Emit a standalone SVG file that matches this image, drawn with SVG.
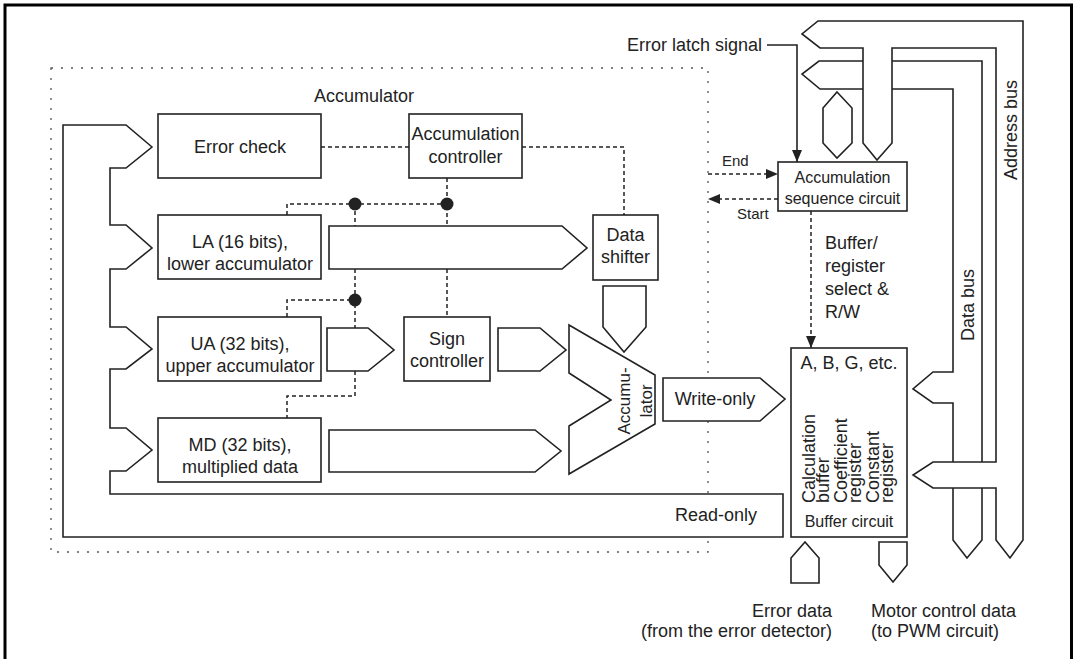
<svg xmlns="http://www.w3.org/2000/svg" width="1076" height="659" viewBox="0 0 1076 659">
<style>
.box{fill:#fff;stroke:#222;stroke-width:1.6}
.bus{fill:#fff;stroke:#222;stroke-width:1.6;stroke-linejoin:miter}
.dash{fill:none;stroke:#222;stroke-width:1.5;stroke-dasharray:4 3}
.line{fill:none;stroke:#222;stroke-width:1.6}
.frame{fill:none;stroke:#555;stroke-width:1.3;stroke-dasharray:2 8}
text{font-family:"Liberation Sans",Arial,Helvetica,sans-serif;font-size:18px;fill:#222}
.c{text-anchor:middle}
.e{text-anchor:end}
.s{font-size:16px}
.xs{font-size:15px}
.m{font-size:17px}
</style>
<defs>
<marker id="ah" markerWidth="12" markerHeight="10" refX="12" refY="5" orient="auto" markerUnits="userSpaceOnUse">
<path d="M0,0 L12,5 L0,10 Z" fill="#222"/>
</marker>
<circle id="jd" r="6.5" fill="#222"/>
</defs>
<rect x="5" y="5" width="1066.5" height="670" fill="#fff" stroke="#000" stroke-width="3"/>
<rect x="51" y="68" width="657" height="484" class="frame"/>
<text x="364" y="102" class="c">Accumulator</text>

<g id="connectors">
<path class="dash" d="M321,147 H409"/>
<path class="dash" d="M522,147 H624 V215"/>
<path class="dash" d="M447,178 V226"/>
<path class="dash" d="M447,269 V317"/>
<path class="dash" d="M287,215 V204 H447"/>
<path class="dash" d="M355,204 V226"/>
<path class="dash" d="M355,269 V328"/>
<path class="dash" d="M287,317 V300 H355"/>
<path class="dash" d="M355,371 V396 H287 V418"/>
<use href="#jd" x="355" y="204"/>
<use href="#jd" x="447" y="204"/>
<use href="#jd" x="355" y="300"/>
<path class="dash" d="M708,174 H778" marker-end="url(#ah)"/>
<path class="dash" d="M778,199 H708" marker-end="url(#ah)"/>
<path class="dash" d="M811,211 V348" marker-end="url(#ah)"/>
<path class="line" d="M767,45 H797 V162" marker-end="url(#ah)"/>
<text x="722" y="166" class="xs">End</text>
<text x="737" y="219" class="xs">Start</text>
<text x="762" y="51" class="e">Error latch signal</text>
<text x="825" y="249">Buffer/</text>
<text x="825" y="272">register</text>
<text x="825" y="295">select &amp;</text>
<text x="825" y="318">R/W</text>
</g>

<g id="readonly-bus">
<path class="bus" d="M152,147 L126,125 H63 V537 H783 V494 H110 V471 H126 L152,450 L126,428 H110 V369 H126 L152,349 L126,327 H110 V269 H126 L152,248 L126,225 H110 V168 H126 Z"/>
<text x="757" y="521" class="e">Read-only</text>
</g>

<g id="error-check"><rect class="box" x="158" y="114" width="163" height="64"/><text x="240" y="153" class="c">Error check</text></g>
<g id="la"><rect class="box" x="158" y="215" width="163" height="64"/><text x="240" y="248" class="c">LA (16 bits),</text><text x="240" y="270" class="c">lower accumulator</text></g>
<g id="ua"><rect class="box" x="158" y="317" width="163" height="64"/><text x="240" y="350" class="c">UA (32 bits),</text><text x="240" y="372" class="c">upper accumulator</text></g>
<g id="md"><rect class="box" x="158" y="418" width="163" height="64"/><text x="240" y="451" class="c">MD (32 bits),</text><text x="240" y="473" class="c">multiplied data</text></g>
<g id="acc-ctrl"><rect class="box" x="409" y="114" width="113" height="64"/><text x="465.5" y="140" class="c">Accumulation</text><text x="465.5" y="163" class="c">controller</text></g>
<g id="data-shifter"><rect class="box" x="593" y="215" width="65" height="65"/><text x="625.5" y="241" class="c">Data</text><text x="625.5" y="263" class="c">shifter</text></g>
<g id="sign-ctrl"><rect class="box" x="404" y="317" width="86" height="64"/><text x="447" y="345" class="c">Sign</text><text x="447" y="367" class="c">controller</text></g>

<g id="la-bus"><path class="bus" d="M329,226 H562 L587,248 L562,269 H329 Z"/></g>
<g id="ua-arrow"><path class="bus" d="M327,328 H368 L394,350 L368,371 H327 Z"/></g>
<g id="sign-arrow"><path class="bus" d="M498,328 H540 L566,350 L540,371 H498 Z"/></g>
<g id="md-bus"><path class="bus" d="M329,430 H535 L561,451 L535,472 H329 Z"/></g>
<g id="shifter-arrow"><path class="bus" d="M603,286 H646 V327 L624,352 L603,327 Z"/></g>

<g id="accumulator">
<path class="bus" d="M569,325 L655,375 V424 L569,474 V426 L611,400 L569,373 Z"/>
<text transform="translate(630,401) rotate(-90)" class="c m">Accumu-</text>
<text transform="translate(652,401) rotate(-90)" class="c m">lator</text>
</g>

<g id="write-only"><path class="bus" d="M663,378 H760 L785,399 L760,421 H663 Z"/><text x="715" y="405" class="c">Write-only</text></g>

<g id="seq-circuit"><rect class="box" x="778" y="162" width="129" height="49"/><text x="842.5" y="183" class="c s">Accumulation</text><text x="842.5" y="204" class="c s">sequence circuit</text></g>

<g id="data-bus">
<path class="bus" d="M819,61 H982 V540 L967,558 L953,540 V403 H933 L913,389 L933,372 H953 V89 H820 L802,74 Z"/>
<text transform="translate(974,305) rotate(-90)" class="c">Data bus</text>
</g>
<g id="address-bus">
<path class="bus" d="M818,21 H1023 V540 L1010,558 L996,540 V488 H933 L913,475 L933,462 H996 V48 H892 V143 L877,160 L863,143 V48 H820 L802,34 Z"/>
<text transform="translate(1017,130) rotate(-90)" class="c">Address bus</text>
</g>
<g id="hex"><path class="bus" d="M837,92 L852,108 V143 L837,158 L823,143 V108 Z"/></g>

<g id="buffer">
<rect class="box" x="791" y="348" width="116" height="189"/>
<text x="849" y="369" class="c">A, B, G, etc.</text>
<text transform="translate(815,503) rotate(-90)">Calculation</text>
<text transform="translate(829,503) rotate(-90)">buffer</text>
<text transform="translate(847,503) rotate(-90)">Coefficient</text>
<text transform="translate(861,503) rotate(-90)">register</text>
<text transform="translate(879,503) rotate(-90)">Constant</text>
<text transform="translate(893,503) rotate(-90)">register</text>
<text x="849" y="527" class="c s">Buffer circuit</text>
</g>

<g id="error-data"><path class="bus" d="M791,583 V558 L805,542 L819,558 V583 Z"/><text x="832" y="617" class="e">Error data</text><text x="832" y="637" class="e">(from the error detector)</text></g>
<g id="motor-data"><path class="bus" d="M879,542 H907 V565 L893,582 L879,565 Z"/><text x="871" y="617">Motor control data</text><text x="871" y="637">(to PWM circuit)</text></g>
</svg>
